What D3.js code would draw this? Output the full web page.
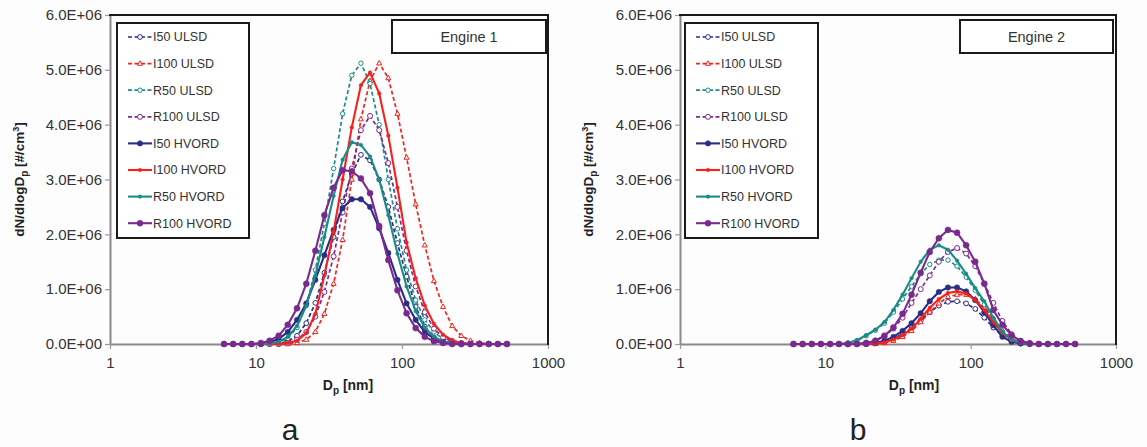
<!DOCTYPE html>
<html><head><meta charset="utf-8">
<script src="https://cdn.jsdelivr.net/npm/d3@7"></script>
<style>
body{margin:0;background:#fff}
svg{display:block}
text{font-family:"Liberation Sans",Arial,sans-serif}
</style>
</head><body>
<svg id="c" width="1147" height="447"></svg>
<script>
// particle diameters (nm), EEPS channels
const diameters = [6.04,6.98,8.06,9.31,10.8,12.4,14.3,16.5,19.1,22.1,25.5,29.4,34.0,39.2,45.3,52.3,60.4,69.8,80.6,93.1,107.5,124.1,143.3,165.5,191.1,220.7,254.8,294.3,339.8,392.4,453.2,523.3];
const seriesNames = ["I50 ULSD","I100 ULSD","R50 ULSD","R100 ULSD","I50 HVORD","I100 HVORD","R50 HVORD","R100 HVORD"];
const yTicks = [0,1,2,3,4,5,6];      // x 1E+06
const xTicks = [1,10,100,1000];

// Engine 1 (values in 1E+06 #/cm3)
const e1_I50_ULSD   = [0,0,0,0,0,0,0,0.05,0.15,0.38,0.75,1.3,1.95,2.6,3.1,3.45,3.35,3.0,2.5,1.84,1.23,0.68,0.32,0.12,0.04,0.01,0,0,0,0,0,0];
const e1_I100_ULSD  = [0,0,0,0,0,0,0,0,0.02,0.08,0.22,0.55,1.1,1.9,3.0,4.1,4.8,5.12,4.85,4.2,3.4,2.55,1.8,1.15,0.68,0.33,0.15,0.06,0.02,0.005,0,0];
const e1_R50_ULSD   = [0,0,0,0,0,0,0.03,0.1,0.3,0.7,1.35,2.2,3.2,4.2,4.9,5.12,4.75,4.0,3.0,2.1,1.35,0.8,0.44,0.22,0.09,0.03,0.01,0,0,0,0,0];
const e1_R100_ULSD  = [0,0,0,0,0,0,0,0.02,0.08,0.22,0.5,0.95,1.6,2.4,3.2,3.9,4.16,3.9,3.3,2.5,1.7,1.05,0.58,0.28,0.12,0.05,0.02,0,0,0,0,0];
const e1_I50_HVORD  = [0,0,0,0,0,0.03,0.09,0.22,0.44,0.74,1.17,1.62,2.08,2.48,2.64,2.64,2.5,2.11,1.66,1.17,0.74,0.44,0.22,0.1,0.04,0.01,0,0,0,0,0,0];
const e1_I100_HVORD = [0,0,0,0,0,0,0,0.02,0.06,0.2,0.55,1.25,2.05,3.0,3.95,4.72,4.95,4.57,3.8,2.85,1.85,1.2,0.7,0.37,0.17,0.07,0.02,0,0,0,0,0];
const e1_R50_HVORD  = [0,0,0,0,0,0.01,0.04,0.13,0.33,0.7,1.25,1.95,2.7,3.36,3.68,3.63,3.42,3.0,2.35,1.65,1.05,0.6,0.3,0.13,0.05,0.015,0,0,0,0,0,0];
const e1_R100_HVORD = [0,0,0,0,0.02,0.06,0.15,0.35,0.65,1.1,1.7,2.35,2.85,3.17,3.15,3.02,2.75,2.15,1.53,0.98,0.56,0.29,0.13,0.05,0.02,0,0,0,0,0,0,0];

// Engine 2
const e2_I50_ULSD   = [0,0,0,0,0,0,0,0,0,0.02,0.05,0.1,0.18,0.29,0.43,0.58,0.7,0.77,0.78,0.74,0.64,0.48,0.3,0.15,0.05,0.01,0,0,0,0,0,0];
const e2_I100_ULSD  = [0,0,0,0,0,0,0,0,0,0,0.02,0.06,0.13,0.24,0.4,0.58,0.74,0.86,0.9,0.9,0.82,0.66,0.45,0.25,0.1,0.03,0.01,0,0,0,0,0];
const e2_R50_ULSD   = [0,0,0,0,0,0,0.02,0.06,0.15,0.25,0.38,0.58,0.82,1.05,1.28,1.45,1.53,1.53,1.42,1.22,0.98,0.72,0.45,0.22,0.08,0.02,0,0,0,0,0,0];
const e2_R100_ULSD  = [0,0,0,0,0,0,0,0,0.02,0.06,0.14,0.28,0.48,0.75,1.0,1.25,1.5,1.68,1.75,1.65,1.42,1.1,0.75,0.42,0.18,0.06,0.02,0,0,0,0,0];
const e2_I50_HVORD  = [0,0,0,0,0,0,0,0,0,0.02,0.06,0.13,0.24,0.38,0.56,0.78,0.95,1.03,1.03,0.96,0.8,0.58,0.34,0.13,0.04,0.01,0,0,0,0,0,0];
const e2_I100_HVORD = [0,0,0,0,0,0,0,0,0,0.01,0.03,0.08,0.16,0.28,0.46,0.66,0.82,0.93,0.96,0.92,0.8,0.62,0.4,0.2,0.07,0.02,0,0,0,0,0,0];
const e2_R50_HVORD  = [0,0,0,0,0,0,0.02,0.07,0.16,0.26,0.4,0.62,0.9,1.2,1.5,1.72,1.8,1.72,1.52,1.28,1.02,0.78,0.48,0.22,0.08,0.02,0,0,0,0,0,0];
const e2_R100_HVORD = [0,0,0,0,0,0,0,0,0.02,0.06,0.15,0.3,0.55,0.9,1.3,1.68,1.93,2.08,2.03,1.8,1.5,1.1,0.62,0.35,0.16,0.05,0.01,0,0,0,0,0];

const engine1 = [e1_I50_ULSD,e1_I100_ULSD,e1_R50_ULSD,e1_R100_ULSD,e1_I50_HVORD,e1_I100_HVORD,e1_R50_HVORD,e1_R100_HVORD];
const engine2 = [e2_I50_ULSD,e2_I100_ULSD,e2_R50_ULSD,e2_R100_ULSD,e2_I50_HVORD,e2_I100_HVORD,e2_R50_HVORD,e2_R100_HVORD];

// styles
const NAVY="#2b2d86", RED="#f2231c", TEAL="#1b8b86", PURPLE="#7a2a8e";
const styles = [
  {c:NAVY,dash:true,open:true,r:2.4,shape:"circle"},
  {c:RED,dash:true,open:true,r:2.2,shape:"tri"},
  {c:TEAL,dash:true,open:true,r:2.2,shape:"circle"},
  {c:PURPLE,dash:true,open:true,r:2.5,shape:"circle"},
  {c:NAVY,dash:false,open:false,r:2.7,shape:"circle"},
  {c:RED,dash:false,open:false,r:1.8,shape:"circle"},
  {c:TEAL,dash:false,open:false,r:1.8,shape:"circle"},
  {c:PURPLE,dash:false,open:false,r:3.0,shape:"circle"}
];

const svg = d3.select("#c");
svg.append("rect").attr("width",1147).attr("height",447).attr("fill","#fdfdfd");

const panels = [
  {x0:110,x1:548,data:engine1,title:"Engine 1",letter:"a",letterX:290,xlabX:348,ylabX:24,
   leg:{x:117,y:23,w:132,h:215},box:{x:392,y:20,w:154,h:33}},
  {x0:680,x1:1116,data:engine2,title:"Engine 2",letter:"b",letterX:858,xlabX:914,ylabX:593,
   leg:{x:685,y:23,w:133,h:215},box:{x:960,y:20,w:153,h:33}}
];
const yTop=15, yBot=344;
const fmt = v => v===0 ? "0.0E+00" : v.toFixed(1)+"E+06";

function marker(g, s, cx, cy){
  if(s.shape==="tri"){
    const r=s.r+0.6;
    g.append("path").attr("d",`M${cx},${cy-r}L${cx+r*0.9},${cy+r*0.6}L${cx-r*0.9},${cy+r*0.6}Z`)
     .attr("fill",s.open?"#fff":s.c).attr("stroke",s.c).attr("stroke-width",1);
  } else {
    g.append("circle").attr("cx",cx).attr("cy",cy).attr("r",s.r)
     .attr("fill",s.open?"#fff":s.c).attr("stroke",s.c).attr("stroke-width",s.open?1:0.5);
  }
}

panels.forEach(p=>{
  const x = d3.scaleLog().domain([1,1000]).range([p.x0,p.x1]);
  const y = d3.scaleLinear().domain([0,6]).range([yBot,yTop]);
  const g = svg.append("g");

  // axes
  const ya = g.append("g").attr("transform",`translate(${p.x0},0)`)
    .call(d3.axisLeft(y).tickValues(yTicks).tickFormat(fmt).tickSize(5).tickSizeOuter(0));
  ya.select(".domain").attr("stroke","#8a8a8a").attr("stroke-width",2);
  ya.selectAll(".tick line").attr("stroke","#9a9a9a").attr("stroke-width",1.2);
  ya.selectAll(".tick text").attr("font-size",15).attr("fill","#333").attr("x",-8)
    .attr("font-family","Liberation Sans, Arial, sans-serif");

  const xa = g.append("g").attr("transform",`translate(0,${yBot})`)
    .call(d3.axisBottom(x).tickValues(xTicks).tickFormat(d3.format("d")).tickSize(5).tickSizeOuter(0));
  xa.select(".domain").attr("stroke","#8a8a8a").attr("stroke-width",2);
  xa.selectAll(".tick line").attr("stroke","#9a9a9a").attr("stroke-width",1.2);
  xa.selectAll(".tick text").attr("font-size",15).attr("fill","#333").attr("y",13)
    .attr("font-family","Liberation Sans, Arial, sans-serif");

  // top & right frame
  g.append("path").attr("d",`M${p.x0-1},${yTop}H${p.x1}V${yBot+1}`)
    .attr("fill","none").attr("stroke","#1a1a1a").attr("stroke-width",2);

  // series
  const line = d3.line().x(d=>x(d[0])).y(d=>y(d[1]));
  p.data.forEach((vals,i)=>{
    const s=styles[i];
    const pts = diameters.map((d,k)=>[d,vals[k]]);
    g.append("path").datum(pts).attr("d",line).attr("fill","none")
      .attr("stroke",s.c).attr("stroke-width",s.dash?1.7:2.1)
      .attr("stroke-dasharray",s.dash?"4,2.5":null);
    const mg=g.append("g");
    pts.forEach(pt=>marker(mg,s,x(pt[0]),y(pt[1])));
  });

  // legend
  const L=p.leg;
  g.append("rect").attr("x",L.x).attr("y",L.y).attr("width",L.w).attr("height",L.h)
    .attr("fill","#fff").attr("stroke","#1a1a1a").attr("stroke-width",2);
  seriesNames.forEach((n,i)=>{
    const s=styles[i], cy=L.y+14+i*26.6;
    g.append("line").attr("x1",L.x+11).attr("x2",L.x+35).attr("y1",cy).attr("y2",cy)
      .attr("stroke",s.c).attr("stroke-width",s.dash?1.7:2.1).attr("stroke-dasharray",s.dash?"4,2.5":null);
    marker(g,s,L.x+23,cy);
    g.append("text").attr("x",L.x+36).attr("y",cy).attr("dy","0.35em")
      .attr("font-size",12.5).attr("fill","#333").text(n);
  });

  // engine box
  const B=p.box;
  g.append("rect").attr("x",B.x).attr("y",B.y).attr("width",B.w).attr("height",B.h)
    .attr("fill","#fff").attr("stroke","#1a1a1a").attr("stroke-width",2);
  g.append("text").attr("x",B.x+B.w/2).attr("y",B.y+B.h/2).attr("dy","0.35em")
    .attr("text-anchor","middle").attr("font-size",14.5).attr("fill","#333").text(p.title);

  // axis titles
  const xl = g.append("text").attr("x",p.xlabX).attr("y",390).attr("text-anchor","middle")
    .attr("font-size",14).attr("font-weight","bold").attr("fill","#222");
  xl.append("tspan").text("D");
  xl.append("tspan").attr("font-size",10).attr("dy",4).text("p");
  xl.append("tspan").attr("dy",-4).text(" [nm]");

  const yl = g.append("text").attr("transform",`translate(${p.ylabX},${(yTop+yBot)/2}) rotate(-90)`)
    .attr("text-anchor","middle").attr("font-size",13.5).attr("font-weight","bold").attr("fill","#222");
  yl.append("tspan").text("dN/dlogD");
  yl.append("tspan").attr("font-size",10).attr("dy",4).text("p");
  yl.append("tspan").attr("dy",-4).text(" [#/cm");
  yl.append("tspan").attr("font-size",9).attr("dy",-5).text("3");
  yl.append("tspan").attr("dy",5).text("]");

  g.append("text").attr("x",p.letterX).attr("y",440).attr("text-anchor","middle")
    .attr("font-size",30).attr("fill","#222").text(p.letter);
});
</script>
</body></html>
